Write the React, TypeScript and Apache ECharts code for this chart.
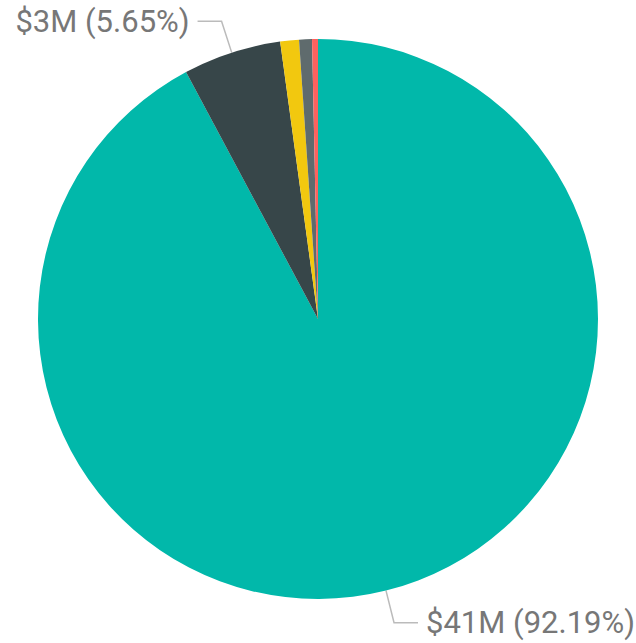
import React, { useEffect, useRef } from "react";
import * as echarts from "echarts";

const categories = ["A", "B", "C", "D", "E"];
const amountsM = [41.0, 2.5127, 0.4803, 0.3291, 0.1512];
const colors = ["#01B8AA", "#374649", "#F2C80F", "#5F6B6D", "#FD625E"];
const showLabel = [true, true, false, false, false];

export default function App() {
  const ref = useRef<HTMLDivElement>(null);
  useEffect(() => {
    const chart = echarts.init(ref.current!, null, { renderer: "svg" });
    chart.setOption({
      animation: false,
      series: [
        {
          type: "pie",
          center: [318, 319],
          radius: [0, 280],
          startAngle: 90,
          clockwise: true,
          avoidLabelOverlap: false,
          data: categories.map((c, i) => ({
            name: c,
            value: amountsM[i],
            itemStyle: { color: colors[i] },
            label: { show: showLabel[i] },
            labelLine: { show: showLabel[i] },
          })),
          label: {
            formatter: (p: any) => `$${Math.round(p.value)}M (${p.percent.toFixed(2)}%)`,
            color: "#777777",
            fontSize: 31,
            fontFamily: "Roboto",
            distanceToLabelLine: 8,
          },
          labelLine: {
            length: 33,
            length2: 24,
            lineStyle: { color: "#BBBBBB", width: 1.5 },
          },
          itemStyle: { borderWidth: 0 },
          emphasis: { disabled: true },
        },
      ],
    });
    return () => chart.dispose();
  }, []);
  return (
    <div
      ref={ref}
      style={{ position: "fixed", left: 0, top: 0, width: 636, height: 643, background: "#fff" }}
    />
  );
}
